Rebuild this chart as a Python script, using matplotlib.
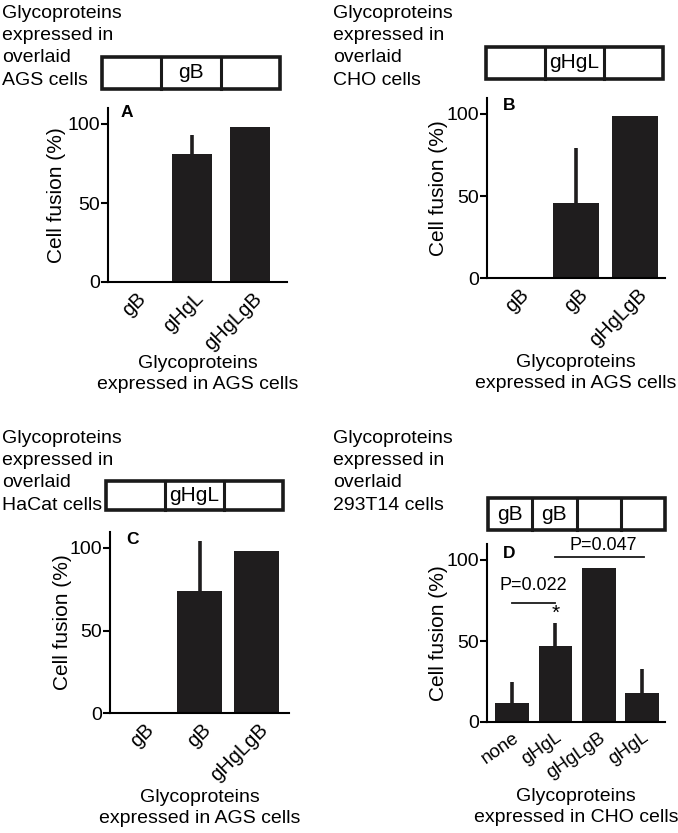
import numpy as np
import matplotlib.pyplot as plt
from matplotlib.patches import Rectangle
from matplotlib.transforms import ScaledTranslation

plt.rcParams['font.family'] = ['Liberation Sans', 'DejaVu Sans']

# ---- data ----
cats_a = ['gB', 'gHgL', 'gHgLgB']
fusion_a = [0, 81, 98]
err_a = [0, 12, 0]
box_a = ['', 'gB', '']

cats_b = ['gB', 'gB', 'gHgLgB']
fusion_b = [0, 46, 99]
err_b = [0, 33, 0]
box_b = ['', 'gHgL', '']

cats_c = ['gB', 'gB', 'gHgLgB']
fusion_c = [0, 74, 98]
err_c = [0, 30, 0]
box_c = ['', 'gHgL', '']

cats_d = ['none', 'gHgL', 'gHgLgB', 'gHgL']
fusion_d = [12, 47, 95, 18]
err_d = [13, 14, 0, 15]
box_d = ['gB', 'gB', '', '']

overlay_cells = ['AGS', 'CHO', 'HaCat', '293T14']
expressed_cells = ['AGS', 'AGS', 'AGS', 'CHO']

W, H = 678, 833
fig = plt.figure(figsize=(W / 100, H / 100), dpi=100)
BAR = '#1f1d1e'


def fx(px):
    return px / W


def fy(py):
    return 1 - py / H


def draw_box(x0, y0, x1, y1, labels):
    # cell diagram above each panel
    n = len(labels)
    fig.add_artist(Rectangle((fx(x0), fy(y1)), fx(x1 - x0), (y1 - y0) / H,
                             transform=fig.transFigure, fill=False,
                             lw=2.6, ec='#1a1a1a'))
    step = (x1 - x0) / n
    for i in range(1, n):
        xx = fx(x0 + i * step)
        fig.add_artist(plt.Line2D([xx, xx], [fy(y0), fy(y1)],
                                  transform=fig.transFigure, lw=2.2, color='#1a1a1a'))
    for i, lab in enumerate(labels):
        if lab:
            fig.text(fx(x0 + (i + 0.5) * step), fy((y0 + y1) / 2), lab,
                     ha='center', va='center', fontsize=15)


def panel(left, right, bottom, scale, xlim, width, cats, vals, errs,
          letter, letter_xy, cell, ylab_x, xlab_y, rot=45, tick_fs=14.5, shift=11):
    height = 110 * scale
    ax = fig.add_axes([fx(left), fy(bottom), fx(right - left), height / H])
    x = np.arange(len(cats))
    ax.bar(x, vals, width=width, color=BAR, zorder=2)
    errs = np.array(errs)
    m = errs > 0
    ax.errorbar(x[m], np.array(vals)[m], yerr=[np.zeros(m.sum()), errs[m]],
                fmt='none', ecolor=BAR, elinewidth=2.6, capsize=0, zorder=1)
    ax.set_xlim(*xlim)
    ax.set_ylim(0, 110)
    for s in ['top', 'right']:
        ax.spines[s].set_visible(False)
    for s in ['left', 'bottom']:
        ax.spines[s].set_linewidth(1.5)
    ax.set_yticks([0, 50, 100])
    ax.tick_params(axis='y', labelsize=14, length=5, width=1.5, pad=1)
    ax.set_xticks(x)
    ax.set_xticklabels(cats, rotation=rot, ha='right', fontsize=tick_fs)
    ax.tick_params(axis='x', length=0, pad=5)
    off = ScaledTranslation(shift / 72, 0, fig.dpi_scale_trans)
    for lbl in ax.get_xticklabels():
        lbl.set_transform(lbl.get_transform() + off)
    ax.set_ylabel('Cell fusion (%)', fontsize=15)
    ax.yaxis.set_label_coords(ylab_x, 0.5)
    ax.set_xlabel('Glycoproteins\nexpressed in %s cells' % cell, fontsize=14,
                  linespacing=1.3)
    ax.xaxis.set_label_coords(0.5, xlab_y)
    ax.text(letter_xy[0], letter_xy[1], letter, transform=ax.transAxes,
            fontsize=12.5, fontweight='bold', ha='left', va='top')
    return ax


def side_text(x, y, cell):
    fig.text(fx(x), fy(y), 'Glycoproteins\nexpressed in\noverlaid\n%s cells' % cell,
             ha='left', va='top', fontsize=14, linespacing=1.4)


# panel A
side_text(2, 5, overlay_cells[0])
draw_box(102, 57, 280, 89, box_a)
panel(108, 287, 282, 1.58, (-0.45, 2.64), 0.69, cats_a, fusion_a, err_a,
      'A', (0.07, 1.02), expressed_cells[0], -0.235, -0.42)

# panel B
side_text(333, 5, overlay_cells[1])
draw_box(486, 47, 663, 79, box_b)
panel(487, 665, 278, 1.64, (-0.51, 2.51), 0.78, cats_b, fusion_b, err_b,
      'B', (0.09, 1.0), expressed_cells[1], -0.22, -0.42)

# panel C
side_text(2, 430, overlay_cells[2])
draw_box(106, 481, 283, 510, box_c)
panel(110, 289, 713, 1.65, (-0.57, 2.57), 0.8, cats_c, fusion_c, err_c,
      'C', (0.09, 1.0), expressed_cells[2], -0.21, -0.42)

# panel D
side_text(333, 430, overlay_cells[3])
draw_box(488, 498, 665, 530, box_d)
ax_d = panel(487, 665, 722, 1.62, (-0.58, 3.53), 0.78, cats_d, fusion_d, err_d,
             'D', (0.09, 0.99), expressed_cells[3], -0.22, -0.37,
             rot=35, tick_fs=13.5, shift=7)

# significance marks in D
ax_d.plot([0, 1], [73.5, 73.5], color='#1a1a1a', lw=1.3)
ax_d.text(0.5, 79, 'P=0.022', ha='center', va='bottom', fontsize=13)
ax_d.text(1, 61, '*', ha='center', va='bottom', fontsize=15)
ax_d.plot([1, 3.05], [102, 102], color='#1a1a1a', lw=1.3, clip_on=False)
ax_d.text(2.1, 103.5, 'P=0.047', ha='center', va='bottom', fontsize=13)

fig.savefig('out.png', dpi=100)
